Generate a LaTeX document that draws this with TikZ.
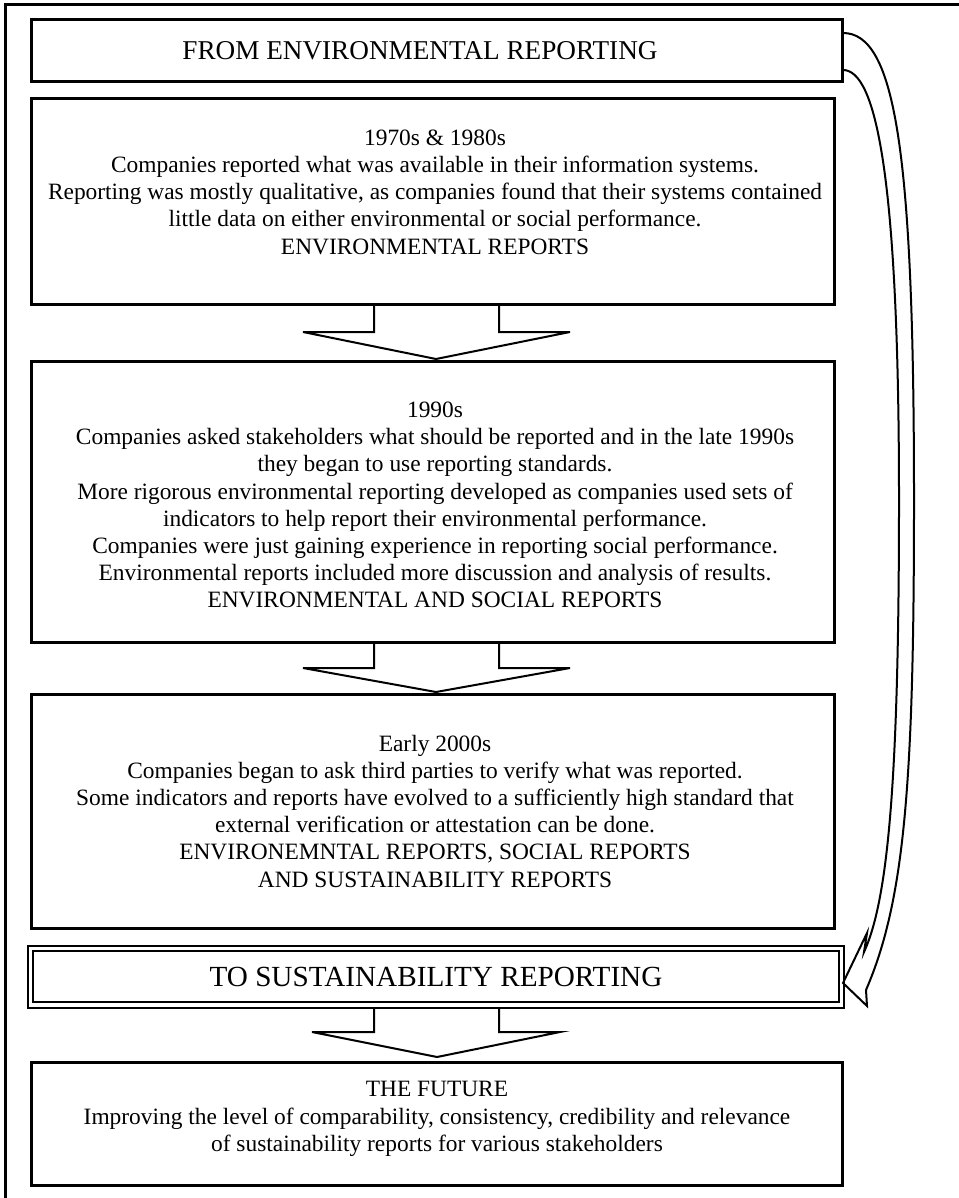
\documentclass[tikz,border=0pt]{standalone}
\usepackage{fontspec}
\setmainfont{Liberation Serif}
\usetikzlibrary{fit}
\begin{document}
\begin{tikzpicture}[x=0.5pt,y=-0.5pt,
  box/.style={draw,line width=1.5pt,inner sep=0pt},
  body/.style={align=center,font=\fontsize{11.7}{13.6}\selectfont,inner sep=0pt},
  head/.style={font=\fontsize{13.6}{15}\selectfont,inner sep=0pt},
  barrow/.style={draw,line width=1pt,line join=miter},
  curv/.style={draw,line width=1pt,line join=miter}]
\useasboundingbox (0,0) rectangle (958,1198);
% outer frame
\draw[line width=1.5pt] (5,1210) -- (5,5) -- (970,5);
% boxes
\node[box,fit={(31,20) (842,82)}] (from) {};
\node[head] (fromt) at (420,51) {FROM ENVIRONMENTAL REPORTING};
\node[box,fit={(31,99) (834,304)}] (b70) {};
\node[body] (t70) at (435,192) {1970s \& 1980s\\Companies reported what was available in their information systems.\\Reporting was mostly qualitative, as companies found that their systems contained\\little data on either environmental or social performance.\\ENVIRONMENTAL REPORTS};
\node[box,fit={(31,361) (834,642)}] (b90) {};
\node[body] (t90) at (435,505) {1990s\\Companies asked stakeholders what should be reported and in the late 1990s\\they began to use reporting standards.\\More rigorous environmental reporting developed as companies used sets of\\indicators to help report their environmental performance.\\Companies were just gaining experience in reporting social performance.\\Environmental reports included more discussion and analysis of results.\\ENVIRONMENTAL AND SOCIAL REPORTS};
\node[box,fit={(31,694) (834,928)}] (b00) {};
\node[body] (t00) at (435,811) {Early 2000s\\Companies began to ask third parties to verify what was reported.\\Some indicators and reports have evolved to a sufficiently high standard that\\external verification or attestation can be done.\\ENVIRONEMNTAL REPORTS, SOCIAL REPORTS\\AND SUSTAINABILITY REPORTS};
\node[draw,line width=1pt,inner sep=0pt,fit={(28,946) (844,1008)}] (to) {};
\draw[line width=1pt] (33,951) rectangle (839,1002);
\node[head,font=\fontsize{14.6}{16}\selectfont] (tot) at (436,977) {TO SUSTAINABILITY REPORTING};
\node[box,fit={(31,1062) (842,1185)}] (fut) {};
\node[body] (tfut) at (437,1119) {THE FUTURE\\Improving the level of comparability, consistency, credibility and relevance\\of sustainability reports for various stakeholders};
% block arrows
\draw[barrow] (374,305) -- (374,332) -- (303,332) -- (436,359) -- (570,332) -- (499,332) -- (499,305);
\draw[barrow] (374,643) -- (374,668) -- (303,668) -- (436,692) -- (570,668) -- (499,668) -- (499,643);
\draw[barrow] (374,1008) -- (374,1032) -- (312,1032) -- (437,1057) -- (560,1032) -- (499,1032) -- (499,1008);
% curved arrow
\coordinate (c1) at (843,33);
\coordinate (c2) at (843,70);
\draw[curv] (c1) .. controls (895,33) and (914,150) .. (914,500) .. controls (914,780) and (905,900) .. (866,990) -- (867,1006) -- (843,983) -- (867,933) -- (864,952) .. controls (888,900) and (899,780) .. (899,500) .. controls (899,170) and (875,70) .. (c2);
\end{tikzpicture}
\end{document}
